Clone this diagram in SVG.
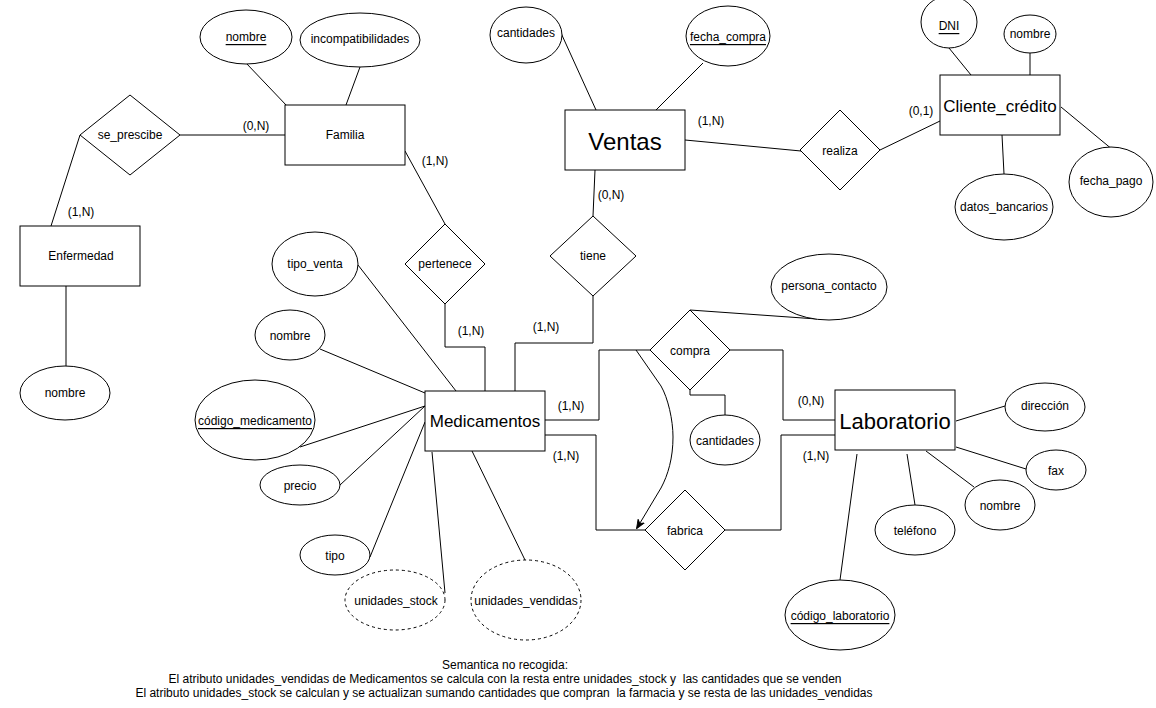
<svg xmlns="http://www.w3.org/2000/svg" width="1156" height="708" viewBox="0 0 1156 708">
<style>
text{font-family:"Liberation Sans",Arial,sans-serif;font-size:12px;fill:#000;text-anchor:middle;dominant-baseline:central}
.s{fill:#fff;stroke:#000;stroke-width:1}
.d{fill:#fff;stroke:#000;stroke-width:1;stroke-dasharray:3 3}
.c{fill:none;stroke:#000;stroke-width:1}
.u{text-decoration:underline}
.big{font-size:17px}
</style>
<defs>
<marker id="arr" viewBox="0 0 10 10" refX="9" refY="5" markerWidth="9" markerHeight="9" orient="auto" markerUnits="userSpaceOnUse">
<path d="M0,1 L10,5 L0,9 L3,5 Z" fill="#000" stroke="#000" stroke-width="1"/>
</marker>
</defs>
<rect width="1156" height="708" fill="#fff"/>
<g id="connectors">
<line class="c" x1="246" y1="63" x2="287" y2="106"/>
<line class="c" x1="360" y1="67" x2="346" y2="105"/>
<line class="c" x1="180" y1="135" x2="285" y2="135"/>
<line class="c" x1="80" y1="135" x2="51" y2="226"/>
<line class="c" x1="66" y1="286" x2="66" y2="367"/>
<line class="c" x1="405" y1="151" x2="445" y2="224"/>
<polyline class="c" points="445,304 445,347 485,347 485,391"/>
<polyline class="c" points="515,391 515,343 593,343 593,296"/>
<line class="c" x1="595" y1="170" x2="593" y2="216"/>
<line class="c" x1="561" y1="33" x2="596" y2="110"/>
<line class="c" x1="703" y1="63" x2="656" y2="110"/>
<line class="c" x1="685" y1="140" x2="801" y2="151"/>
<line class="c" x1="880" y1="150" x2="940" y2="121"/>
<line class="c" x1="949" y1="48" x2="971" y2="75"/>
<line class="c" x1="1030" y1="53" x2="1030" y2="75"/>
<line class="c" x1="1002" y1="135" x2="1004" y2="174"/>
<line class="c" x1="1061" y1="107" x2="1113" y2="150"/>
<line class="c" x1="358" y1="265" x2="456" y2="391"/>
<line class="c" x1="320" y1="349" x2="425" y2="393"/>
<line class="c" x1="300" y1="447" x2="425" y2="406"/>
<line class="c" x1="340" y1="485" x2="425" y2="406"/>
<line class="c" x1="370" y1="557" x2="425" y2="422"/>
<line class="c" x1="445" y1="593" x2="432" y2="452"/>
<line class="c" x1="525" y1="560" x2="472" y2="451"/>
<polyline class="c" points="545,420 599,420 599,350 650,350"/>
<polyline class="c" points="730,350 783,350 783,420 835,420"/>
<polyline class="c" points="545,435 596,435 596,530 645,530"/>
<polyline class="c" points="725,530 781,530 781,435 835,435"/>
<polyline class="c" points="690,390 690,395 725,395 725,415"/>
<line class="c" x1="690" y1="310" x2="817" y2="319"/>
<path class="c" d="M636,350 L661,386 C668,398 673,420 673,437 C673,458 668,475 661,488 L637,528" marker-end="url(#arr)"/>
<line class="c" x1="956" y1="421" x2="1005" y2="406"/>
<line class="c" x1="956" y1="447" x2="1026" y2="469"/>
<line class="c" x1="926" y1="451" x2="974" y2="487"/>
<line class="c" x1="907" y1="454" x2="915" y2="505"/>
<line class="c" x1="857" y1="454" x2="840" y2="580"/>
<text x="256" y="126">(0,N)</text>
<text x="81" y="212">(1,N)</text>
<text x="435" y="161">(1,N)</text>
<text x="471" y="331">(1,N)</text>
<text x="546" y="327">(1,N)</text>
<text x="611" y="195">(0,N)</text>
<text x="711" y="121">(1,N)</text>
<text x="921" y="111">(0,1)</text>
<text x="571" y="406">(1,N)</text>
<text x="566" y="456">(1,N)</text>
<text x="811" y="401">(0,N)</text>
<text x="816" y="456">(1,N)</text>
</g>
<g id="familia"><rect class="s" x="285" y="105" width="120" height="60"/><text x="345" y="135">Familia</text></g>
<g id="familia_nombre"><ellipse class="s" cx="246" cy="37" rx="46" ry="27"/><text class="u" x="246" y="37">nombre</text></g>
<g id="familia_incompatibilidades"><ellipse class="s" cx="360" cy="40" rx="60" ry="27"/><text x="360" y="39">incompatibilidades</text></g>
<g id="se_prescibe"><polygon class="s" points="130,95 180,135 130,175 80,135"/><text x="130" y="135">se_prescibe</text></g>
<g id="enfermedad"><rect class="s" x="20" y="226" width="120" height="60"/><text x="81" y="256">Enfermedad</text></g>
<g id="enfermedad_nombre"><ellipse class="s" cx="65" cy="393" rx="45" ry="27"/><text x="65" y="393">nombre</text></g>
<g id="pertenece"><polygon class="s" points="445,224 485,264 445,304 405,264"/><text x="445" y="264">pertenece</text></g>
<g id="ventas"><rect class="s" x="565" y="110" width="120" height="60"/><text x="625" y="141" style="font-size:24px">Ventas</text></g>
<g id="ventas_cantidades"><ellipse class="s" cx="526" cy="35" rx="36" ry="28"/><text x="526" y="33">cantidades</text></g>
<g id="ventas_fecha_compra"><ellipse class="s" cx="728" cy="36" rx="42" ry="30"/><text class="u" x="728" y="37">fecha_compra</text></g>
<g id="tiene"><polygon class="s" points="593,216 636,256 593,296 550,256"/><text x="593" y="256">tiene</text></g>
<g id="realiza"><polygon class="s" points="840,110 880,150 840,190 800,150"/><text x="840" y="151">realiza</text></g>
<g id="cliente_credito"><rect class="s" x="940" y="75" width="120" height="60"/><text class="big" x="1000" y="106">Cliente_crédito</text></g>
<g id="cliente_dni"><ellipse class="s" cx="949" cy="22" rx="28" ry="26"/><text class="u" x="949" y="26">DNI</text></g>
<g id="cliente_nombre"><ellipse class="s" cx="1030" cy="34" rx="26" ry="19"/><text x="1030" y="34">nombre</text></g>
<g id="cliente_datos_bancarios"><ellipse class="s" cx="1004" cy="207" rx="49" ry="33"/><text x="1004" y="207">datos_bancarios</text></g>
<g id="cliente_fecha_pago"><ellipse class="s" cx="1111" cy="182" rx="42" ry="35"/><text x="1111" y="181">fecha_pago</text></g>
<g id="medicamentos"><rect class="s" x="425" y="391" width="120" height="60"/><text class="big" x="485" y="421">Medicamentos</text></g>
<g id="med_tipo_venta"><ellipse class="s" cx="315" cy="264" rx="43" ry="32"/><text x="315" y="264">tipo_venta</text></g>
<g id="med_nombre"><ellipse class="s" cx="290" cy="335" rx="35" ry="25"/><text x="290" y="336">nombre</text></g>
<g id="med_codigo"><ellipse class="s" cx="255" cy="420" rx="60" ry="40"/><text class="u" x="255" y="421">código_medicamento</text></g>
<g id="med_precio"><ellipse class="s" cx="300" cy="485" rx="40" ry="20"/><text x="300" y="486">precio</text></g>
<g id="med_tipo"><ellipse class="s" cx="335" cy="555" rx="35" ry="20"/><text x="335" y="556">tipo</text></g>
<g id="med_unidades_stock"><ellipse class="d" cx="395" cy="600" rx="50" ry="30"/><text x="396" y="601">unidades_stock</text></g>
<g id="med_unidades_vendidas"><ellipse class="d" cx="526" cy="600" rx="55" ry="40"/><text x="526" y="601">unidades_vendidas</text></g>
<g id="compra"><polygon class="s" points="690,310 730,350 690,390 650,350"/><text x="690" y="351">compra</text></g>
<g id="compra_cantidades"><ellipse class="s" cx="725" cy="440" rx="35" ry="25"/><text x="725" y="441">cantidades</text></g>
<g id="persona_contacto"><ellipse class="s" cx="829" cy="287" rx="58" ry="33"/><text x="829" y="286">persona_contacto</text></g>
<g id="fabrica"><polygon class="s" points="685,490 725,530 685,570 645,530"/><text x="685" y="531">fabrica</text></g>
<g id="laboratorio"><rect class="s" x="835" y="390" width="120" height="60"/><text x="895" y="421" style="font-size:22px">Laboratorio</text></g>
<g id="lab_direccion"><ellipse class="s" cx="1045" cy="407" rx="40" ry="24"/><text x="1045" y="406">dirección</text></g>
<g id="lab_fax"><ellipse class="s" cx="1056" cy="470" rx="30" ry="20"/><text x="1056" y="471">fax</text></g>
<g id="lab_nombre"><ellipse class="s" cx="1000" cy="505" rx="35" ry="25"/><text x="1000" y="506">nombre</text></g>
<g id="lab_telefono"><ellipse class="s" cx="915" cy="530" rx="40" ry="25"/><text x="915" y="531">teléfono</text></g>
<g id="lab_codigo"><ellipse class="s" cx="840" cy="615" rx="55" ry="35"/><text class="u" x="840" y="616">código_laboratorio</text></g>
<g id="nota">
<text x="505" y="665">Semantica no recogida:</text>
<text x="505" y="679" xml:space="preserve">El atributo unidades_vendidas de Medicamentos se calcula con la resta entre unidades_stock y  las cantidades que se venden</text>
<text x="504" y="693" xml:space="preserve">El atributo unidades_stock se calculan y se actualizan sumando cantidades que compran  la farmacia y se resta de las unidades_vendidas</text>
</g>
</svg>
